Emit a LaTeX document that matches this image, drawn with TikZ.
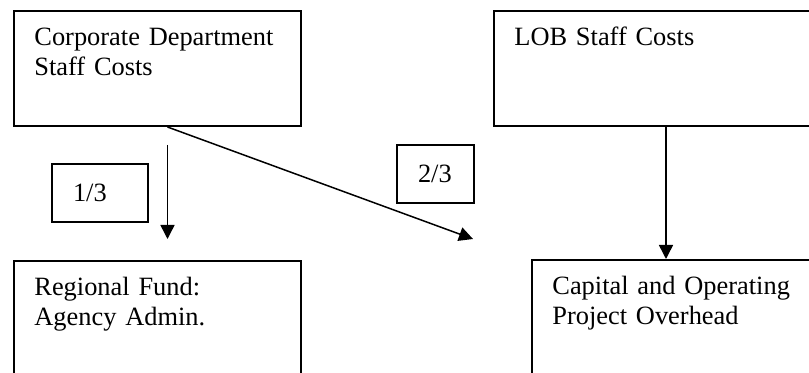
\documentclass[tikz,border=0pt]{standalone}
\usepackage{fontspec}
\setmainfont{Liberation Serif}
\usetikzlibrary{arrows.meta}

\begin{document}
\begin{tikzpicture}[x=0.5pt,y=-0.5pt,
		font=\fontsize{13.2pt}{15pt}\selectfont,
		costbox/.style={draw, line width=1pt, inner sep=0pt, anchor=north west},
		boxtext/.style={inner sep=0pt, text width=140pt, align=left, anchor=base west},
		fracbox/.style={draw, line width=1pt, inner xsep=10.5pt, inner ysep=0pt,
			minimum height=29pt, align=left, anchor=north west},
		flow/.style={line width=0.75pt, -{Triangle[length=7pt,width=7pt]}}]
		\useasboundingbox (0,0) rectangle (809,373);
		\clip (0,0) rectangle (809,373);
		% the four cost boxes
		\node[costbox, minimum width=143.5pt, minimum height=57.5pt] (corp) at (13,10) {};
		\node[costbox, minimum width=172pt, minimum height=57.5pt] (lob) at (493,10) {};
		\node[costbox, minimum width=143.5pt, minimum height=75pt] (regional) at (13,260) {};
		\node[costbox, minimum width=150pt, minimum height=75pt] (capital) at (531,259) {};
		\node[boxtext] (corptext) at ([xshift=10.5pt,yshift=-18pt]corp.north west) {Corporate Department\\Staff Costs};
		\node[boxtext] (lobtext) at ([xshift=10.5pt,yshift=-18pt]lob.north west) {LOB Staff Costs};
		\node[boxtext] (regionaltext) at ([xshift=10.5pt,yshift=-18pt]regional.north west) {Regional Fund:\\Agency Admin.};
		\node[boxtext] (capitaltext) at ([xshift=10.5pt,yshift=-18pt]capital.north west) {Capital and Operating\\Project Overhead};
		% shares
		\node[fracbox, text width=27pt] (third) at (51,163) {1/3};
		\node[fracbox, text width=17.5pt] (twothirds) at (396,144) {2/3};
		% flows
		\coordinate (corpout) at ([xshift=5pt]corp.south);
		\coordinate (diagend) at (473,239);
		\draw[flow, shorten <=9pt, shorten >=10.5pt] (corpout) -- (corpout |- regional.north);
		\draw[flow] (corpout) -- (diagend);
		\draw[flow] (lob.south) -- (lob.south |- capital.north);
	\end{tikzpicture}
\end{document}
